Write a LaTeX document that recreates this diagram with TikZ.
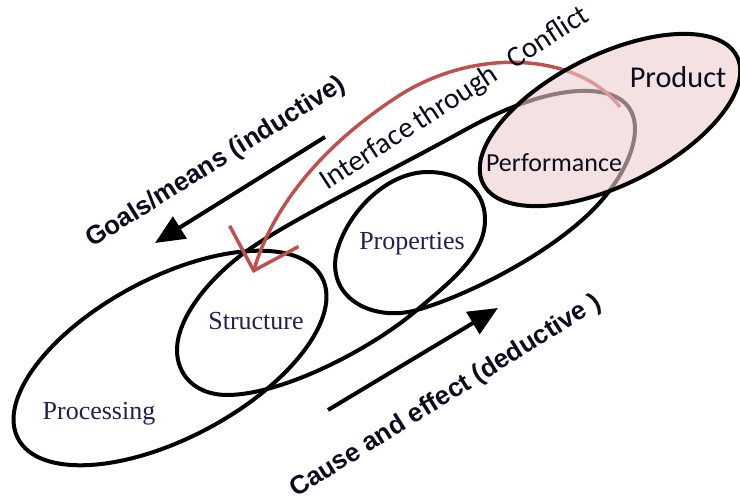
\documentclass[tikz,border=0pt]{standalone}
\usepackage{fontspec}
\setmainfont{Liberation Serif}
\newfontfamily\calibrifont{Carlito}
\newfontfamily\arialfont{Liberation Sans}
\usetikzlibrary{arrows.meta}
\definecolor{linkred}{RGB}{192,80,77}
\definecolor{prodpink}{RGB}{238,206,205}
\definecolor{labelnavy}{RGB}{32,32,82}
\definecolor{textdark}{RGB}{12,12,30}
\begin{document}
\begin{tikzpicture}[x=0.75pt,y=-0.75pt,
  chain/.style={line width=3pt, line join=round},
  flowarrow/.style={line width=3pt, -{Triangle[length=22pt,width=19pt]}},
  serlabel/.style={font=\fontsize{19.5}{23}\selectfont, text=labelnavy, inner sep=0pt, anchor=base},
  callabel/.style={font=\calibrifont\fontsize{19.5}{23}\selectfont, text=textdark, inner sep=0pt, anchor=base},
  boldlabel/.style={font=\arialfont\bfseries\fontsize{19.5}{23}\selectfont, text=textdark, inner sep=0pt, anchor=base west, rotate=32}]

\useasboundingbox (0,0) rectangle (740,502);
\fill[white] (0,0) rectangle (740,502);

% Processing link
\draw[chain, rotate around={28:(170,358)}] (170,358) ellipse [x radius=172, y radius=80];

% Structure -- Properties -- Performance chain, drawn as one curling stroke
\draw[chain]
  (177,350) .. controls (177,375) and (195,394) .. (225,395)
  .. controls (280,396) and (370,350) .. (417,310)
  .. controls (450,282) and (485,255) .. (485,220)
  .. controls (485,185) and (455,172) .. (428,172)
  .. controls (385,172) and (345,215) .. (336,255)
  .. controls (328,300) and (375,322) .. (417,310)
  .. controls (470,295) and (570,245) .. (610,190)
  .. controls (640,150) and (650,100) .. (600,92)
  .. controls (560,86) and (510,105) .. (463,131)
  .. controls (380,177) and (280,225) .. (240,256)
  .. controls (205,283) and (177,320) .. (177,350) -- cycle;

% feedback arc from performance back to structure
\coordinate (arcstart) at (620,107);
\coordinate (arcend) at (253,273);
\draw[linkred, line width=2.6pt, -{Straight Barb[length=27pt,width=54pt]}]
  (arcstart) .. controls (580,55) and (480,45) .. (400,95)
  .. controls (330,140) and (275,200) .. (arcend);

% Product link, translucent
\draw[chain, fill=prodpink, fill opacity=0.6, rotate around={26.6:(610,120)}]
  (610,120) ellipse [x radius=142, y radius=65];

% labels
\node[serlabel] (processing) at (99,420) {Processing};
\node[serlabel] (structure) at (256,330) {Structure};
\node[serlabel] (properties) at (412,250) {Properties};
\node[callabel] (performance) at (554,172) {Performance};
\node[callabel, font=\calibrifont\fontsize{22.7}{26}\selectfont] (product) at (678,88) {Product};
\node[callabel, font=\calibrifont\fontsize{22}{26}\selectfont, anchor=base west, rotate=33]
  (interface) at (327,191) {Interface\hspace{0.15em}through\hspace{0.6em}Conflict};

% direction arrows
\coordinate (goalsfrom) at (325,137);
\coordinate (goalsto) at (155,243);
\draw[flowarrow] (goalsfrom) -- (goalsto);
\coordinate (causefrom) at (328,410);
\coordinate (causeto) at (498,308);
\draw[flowarrow] (causefrom) -- (causeto);

\node[boldlabel] (goals) at (92,248) {Goals/means (inductive)};
\node[boldlabel] (cause) at (296,498) {Cause and effect (deductive )};
\end{tikzpicture}
\end{document}
